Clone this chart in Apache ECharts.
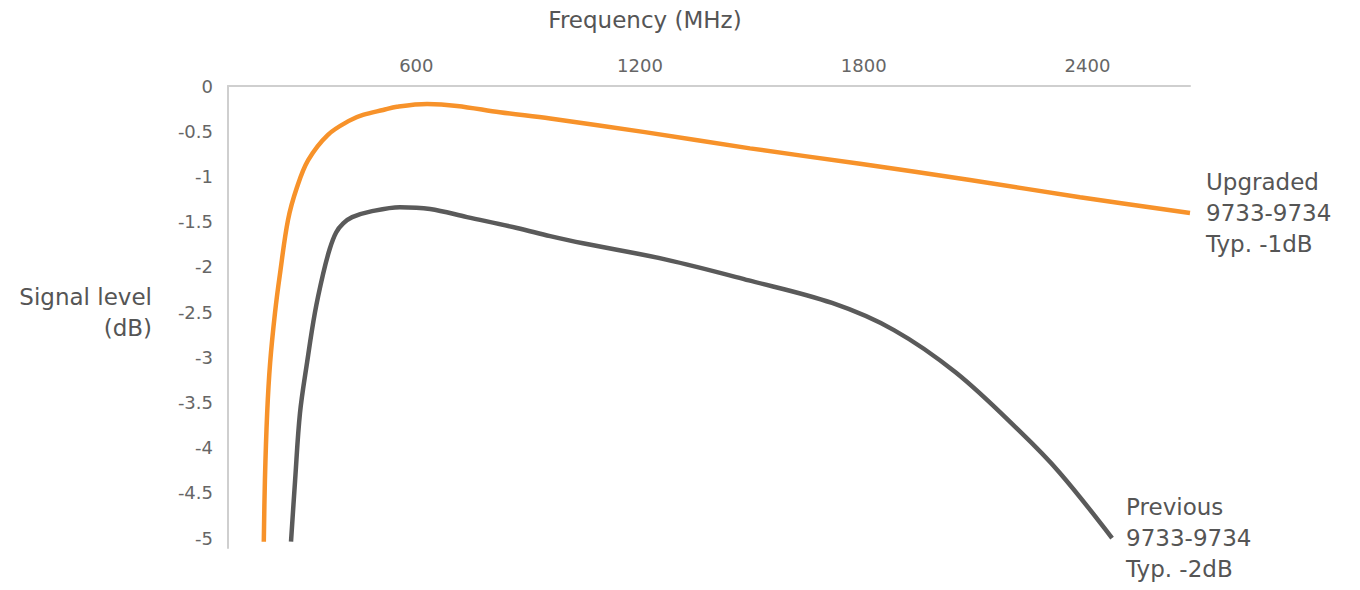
<!DOCTYPE html>
<html>
<head>
<meta charset="utf-8">
<script src="https://cdn.jsdelivr.net/npm/echarts@6/dist/echarts.min.js"></script>
<style>
html,body{margin:0;padding:0;background:#fff;}
#chart{width:1360px;height:590px;}
</style>
</head>
<body>
<div id="chart"></div>
<script>
// Frequency (MHz) and signal level (dB)
const upgradedFreq = [191, 194, 200, 208, 221, 234, 256, 280, 310, 363, 422, 457, 511, 548, 629, 709, 824, 959, 1213, 1495, 1790, 2085, 2380, 2675];
const upgradedLevel = [-5.04, -4.36, -3.62, -3.06, -2.51, -2.09, -1.48, -1.12, -0.82, -0.54, -0.38, -0.32, -0.265, -0.23, -0.20, -0.22, -0.29, -0.36, -0.51, -0.69, -0.86, -1.04, -1.23, -1.405];
const previousFreq = [264, 275, 288, 307, 328, 350, 368, 385, 404, 428, 476, 556, 637, 736, 870, 959, 1047, 1270, 1492, 1715, 1881, 2047, 2216, 2326, 2466];
const previousLevel = [-5.04, -4.36, -3.62, -3.06, -2.51, -2.08, -1.80, -1.62, -1.52, -1.45, -1.39, -1.34, -1.36, -1.45, -1.57, -1.66, -1.74, -1.92, -2.15, -2.40, -2.70, -3.17, -3.81, -4.28, -5.0];
const xTicks = [600, 1200, 1800, 2400];
const yTicks = [0, -0.5, -1, -1.5, -2, -2.5, -3, -3.5, -4, -4.5, -5];
const upgradedLabel = 'Upgraded\n9733-9734\nTyp. -1dB';
const previousLabel = 'Previous\n9733-9734\nTyp. -2dB';
const xName = 'Frequency (MHz)';
const yNameLines = ['Signal level', '(dB)'];

const pairs = (xs, ys) => xs.map((x, i) => [x, ys[i]]);
const FONT = '"DejaVu Sans", Verdana, sans-serif';

const chart = echarts.init(document.getElementById('chart'), null, {renderer: 'svg'});
chart.setOption({
  animation: false,
  backgroundColor: '#fff',
  grid: {left: 228, right: 170, top: 86, bottom: 42, containLabel: false},
  xAxis: {
    type: 'value', position: 'top', min: 95, max: 2675,
    axisLine: {show: true, lineStyle: {color: '#cfcfcf', width: 2}},
    axisTick: {show: false},
    splitLine: {show: false},
    axisLabel: {customValues: xTicks, color: '#666', fontSize: 18, fontFamily: FONT, margin: 12,
      formatter: v => String(v)}
  },
  yAxis: {
    type: 'value', min: -5.11, max: 0,
    axisLine: {show: true, lineStyle: {color: '#cfcfcf', width: 2}},
    axisTick: {show: false},
    splitLine: {show: false},
    axisLabel: {customValues: yTicks, color: '#666', fontSize: 18, fontFamily: FONT, margin: 15,
      formatter: v => String(v)}
  },
  graphic: [
    {type: 'text', x: 645, y: 20, style: {text: xName, fill: '#555', font: '23px ' + FONT, align: 'center', verticalAlign: 'middle'}},
    {type: 'text', x: 152, y: 297, style: {text: yNameLines[0], fill: '#555', font: '23px ' + FONT, align: 'right', verticalAlign: 'middle'}},
    {type: 'text', x: 152, y: 328, style: {text: yNameLines[1], fill: '#555', font: '23px ' + FONT, align: 'right', verticalAlign: 'middle'}}
  ],
  series: [
    {
      type: 'line', name: 'Upgraded', data: pairs(upgradedFreq, upgradedLevel),
      smooth: 0.35, showSymbol: false, symbol: 'none',
      lineStyle: {color: '#F7922A', width: 4.5},
      endLabel: {show: true, formatter: upgradedLabel, distance: 16, color: '#555', fontSize: 23, lineHeight: 31, fontFamily: FONT, align: 'left'}
    },
    {
      type: 'line', name: 'Previous', data: pairs(previousFreq, previousLevel),
      smooth: 0.35, showSymbol: false, symbol: 'none',
      lineStyle: {color: '#5a5a5a', width: 4.5},
      endLabel: {show: true, formatter: previousLabel, distance: 14, color: '#555', fontSize: 23, lineHeight: 31, fontFamily: FONT, align: 'left'}
    }
  ]
});
</script>
</body>
</html>
